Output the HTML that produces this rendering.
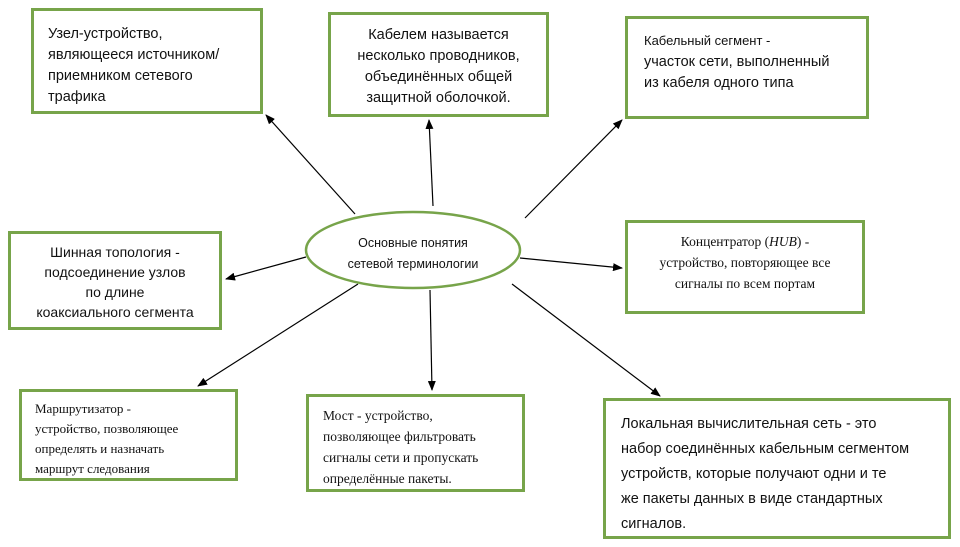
<!DOCTYPE html>
<html><head><meta charset="utf-8"><style>
body{margin:0;width:960px;height:547px;background:#fff;position:relative;overflow:hidden}
.b{position:absolute;border:3px solid #77a44a;box-sizing:border-box;color:#111;font-size:14.5px;line-height:21px}
.s{font-family:"Liberation Sans","DejaVu Sans",sans-serif}
.r{font-family:"Liberation Serif",serif;font-size:13.5px;line-height:21px}
</style></head><body>
<svg width="960" height="547" style="position:absolute;left:0;top:0">
<defs><marker id="a" markerWidth="10" markerHeight="8" refX="9" refY="4" orient="auto" markerUnits="userSpaceOnUse"><path d="M0,0L10,4L0,8z" fill="#000"/></marker></defs>
<g stroke="#000" stroke-width="1.2" marker-end="url(#a)">
<line x1="355" y1="214" x2="266" y2="115"/>
<line x1="433" y1="206" x2="429" y2="120"/>
<line x1="525" y1="218" x2="622" y2="120"/>
<line x1="306" y1="257" x2="226" y2="279"/>
<line x1="520" y1="258" x2="622" y2="268"/>
<line x1="358" y1="284" x2="198" y2="386"/>
<line x1="430" y1="290" x2="432" y2="390"/>
<line x1="512" y1="284" x2="660" y2="396"/>
</g>
<ellipse cx="413" cy="250" rx="107" ry="38" fill="#fff" stroke="#77a44a" stroke-width="2.5"/>
<text x="413" y="247" text-anchor="middle" font-family="Liberation Sans,sans-serif" font-size="12.5" fill="#111">Основные понятия</text>
<text x="413" y="268" text-anchor="middle" font-family="Liberation Sans,sans-serif" font-size="12.5" fill="#111">сетевой терминологии</text>
</svg>
<div class="b s" style="left:31px;top:8px;width:232px;height:106px;padding:13px 0 0 14px">Узел-устройство,<br>являющееся источником/<br>приемником сетевого<br>трафика</div>
<div class="b s" style="left:328px;top:12px;width:221px;height:105px;padding:10px 0 0;text-align:center">Кабелем называется<br>несколько проводников,<br>объединённых общей<br>защитной оболочкой.</div>
<div class="b s" style="left:625px;top:16px;width:244px;height:103px;padding:11px 0 0 16px"><span style="font-size:13px">Кабельный сегмент -</span><br>участок сети, выполненный<br>из кабеля одного типа</div>
<div class="b s" style="left:8px;top:231px;width:214px;height:99px;padding:8px 0 0;text-align:center;font-size:14px;line-height:20px">Шинная топология -<br>подсоединение узлов<br>по длине<br>коаксиального сегмента</div>
<div class="b r" style="left:625px;top:220px;width:240px;height:94px;padding:8px 0 0;text-align:center">Концентратор (<i>HUB</i>) -<br>устройство, повторяющее все<br>сигналы по всем портам</div>
<div class="b r" style="left:19px;top:389px;width:219px;height:92px;padding:7px 0 0 13px;line-height:20px;font-size:13px">Маршрутизатор -<br>устройство, позволяющее<br>определять и назначать<br>маршрут следования</div>
<div class="b r" style="left:306px;top:394px;width:219px;height:98px;padding:8px 0 0 14px">Мост - устройство,<br>позволяющее фильтровать<br>сигналы сети и пропускать<br>определённые пакеты.</div>
<div class="b s" style="left:603px;top:398px;width:348px;height:141px;padding:11px 0 0 15px;line-height:25px;font-size:14.5px">Локальная вычислительная сеть - это<br>набор соединённых кабельным сегментом<br>устройств, которые получают одни и те<br>же пакеты данных в виде стандартных<br>сигналов.</div>
</body></html>
